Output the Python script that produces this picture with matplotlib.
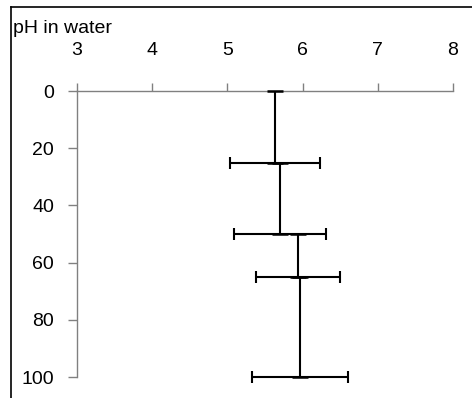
import matplotlib.pyplot as plt
from matplotlib.lines import Line2D

plt.rcParams['font.family'] = ['Liberation Sans', 'DejaVu Sans']

# soil depth (cm) and pH in water, with spread and depth range above each point
depth = [25, 50, 65, 100]
ph = [5.63, 5.70, 5.94, 5.965]
ph_sd = [0.60, 0.61, 0.56, 0.64]
depth_above = [25, 25, 15, 35]

x_ticks = [3, 4, 5, 6, 7, 8]
y_ticks = [0, 20, 40, 60, 80, 100]

fig = plt.figure(figsize=(4.72, 3.98), dpi=100)
ax = fig.add_axes([77/472, 1 - 377/398, 376/472, 286/398])

# depth range as a vertical bar reaching up to the previous layer
eb1 = ax.errorbar(ph, depth, yerr=[depth_above, [0]*len(depth)], fmt='none',
                  ecolor='black', elinewidth=1.5, capsize=5.5, capthick=1.8, zorder=4)
# spread of pH as horizontal bar
eb2 = ax.errorbar(ph, depth, xerr=ph_sd, fmt='none',
                  ecolor='black', elinewidth=1.5, capsize=4.5, capthick=1.5, zorder=4)
for eb in (eb1, eb2):
    for art in eb.lines[1] + eb.lines[2]:
        art.set_clip_on(False)

ax.set_xlim(3, 8)
ax.set_ylim(100, 0)
ax.set_xticks(x_ticks)
ax.set_yticks(y_ticks)
ax.xaxis.tick_top()
for s in ['right', 'bottom']:
    ax.spines[s].set_visible(False)
for s in ['left', 'top']:
    ax.spines[s].set_color('#808080')
    ax.spines[s].set_linewidth(1.0)
ax.tick_params(axis='x', direction='out', length=6, width=1.0, color='#808080',
               labelsize=14, pad=17)
ax.tick_params(axis='y', direction='out', length=6.5, width=1.0, color='#808080',
               labelsize=14, pad=10)

fig.text(13/472, 1 - 33/398, 'pH in water', fontsize=14, ha='left', va='baseline')

# outer frame of the chart area
fig.add_artist(Line2D([11/472, 1.0], [1 - 7/398, 1 - 7/398], color='black', lw=1.2))
fig.add_artist(Line2D([11/472, 11/472], [0.0, 1 - 7/398], color='black', lw=1.2))

fig.savefig('out.png', dpi=100)
